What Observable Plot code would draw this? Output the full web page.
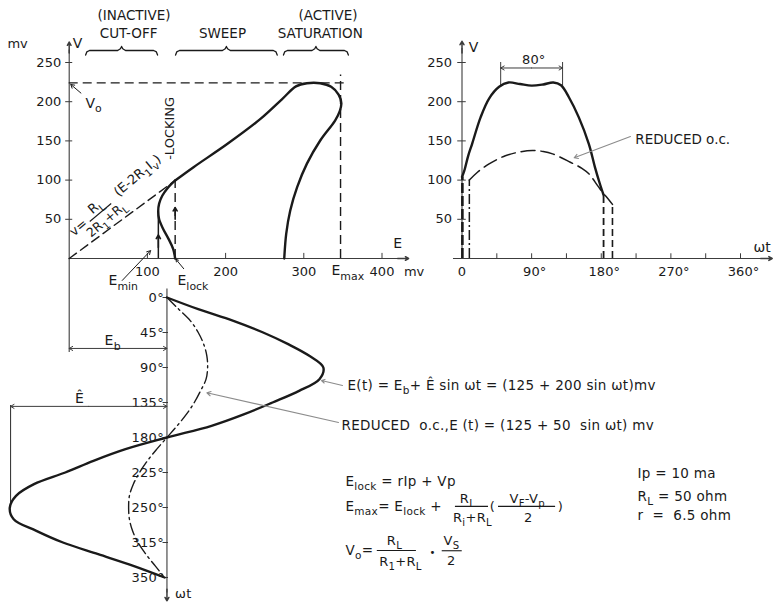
<!DOCTYPE html>
<html><head><meta charset="utf-8">
<script src="https://cdn.jsdelivr.net/npm/d3@7"></script>
<script src="https://cdn.jsdelivr.net/npm/@observablehq/plot@0.6"></script>
<style>
html,body{margin:0;padding:0;background:#fff;}
#fig{position:relative;width:773px;height:604px;overflow:hidden;background:#fff;}
#fig svg{position:absolute;left:0;top:0;}
</style></head><body><div id="fig"></div>
<script>
// ---------------- DATA ----------------
// tick values and labels
const vTicks = [50, 100, 150, 200, 250];
const eTicks = [100, 200, 300, 400];
const eTickLabels = ["100", "200", "300", "400"];
const phaseTicks = [45, 90, 135, 180, 225, 270, 315, 360];
const phaseLabelValues = [90, 180, 270, 360];
const phaseLabels = ["90°", "180°", "270°", "360°"];
const wtTicks = [0, 45, 90, 135, 180, 225, 270, 315, 360];
const wtTickLabels = ["0°", "45°", "90°", "135°", "180°", "225°", "250°", "315°", "350°"];

// key levels (mv)
const V0 = 224, Emin = 114, Elock = 135.5, Vlock = 99.5, Emax = 347, Eb = 125, Ehat = 200;

// operating regions along E (mv)
const regionTop = ["(INACTIVE)", "", "(ACTIVE)"];
const regionName = ["CUT-OFF", "SWEEP", "SATURATION"];
const regionStart = [21, 136, 274];
const regionEnd = [113, 266, 357];

// transfer characteristic V(E), mv
const sweepE = [135.5, 159, 202, 244.6, 272, 290, 304, 321, 335, 344.5, 348, 346, 340, 321, 304, 291.5, 282.6, 277.5, 275];
const sweepV = [99.5, 116.5, 146, 178, 203, 219.5, 223.6, 223.6, 219, 209, 198, 188, 176, 150.5, 121, 91, 61, 31.5, 0];
const lockE = [135.5, 126, 119, 115, 113.8, 115, 120, 127, 133, 135.5];
const lockV = [99.5, 90, 80, 70, 60, 50, 38, 25, 12, 0];

// output V(wt), normal drive
const outPhase = [0, 3, 8, 13, 24, 35, 48, 60, 75, 90, 105, 118, 128, 138, 151, 164, 172, 178, 183];
const outV = [104, 112, 131, 146, 180, 204, 219, 224.5, 222.5, 220.5, 222, 224.5, 221, 206, 180, 146, 116, 96, 81];
const outDrop = [0, 183];
// output V(wt), reduced o.c.
const redPhase = [9.5, 20, 35, 56, 75, 91, 105, 117, 140, 155, 164, 176, 182, 189, 194.5];
const redV = [100, 110, 120.7, 131, 136, 137.8, 136.5, 133.5, 122.8, 115, 108, 92, 84, 76, 69];
const redDrop = [9.5, 194.5];
const flatSpan = [50, 130];

// input drive E(wt), mv
const drivePhase = [0, 15, 30, 45, 60, 75, 90, 105, 120, 135, 150, 165, 180, 195, 210, 225, 240, 255, 270, 285, 300, 315, 330, 345, 360];
const driveE = [125, 165, 210, 248, 280, 307, 325, 320, 294, 260, 224, 182, 125, 72, 31, -5, -45, -68, -76, -71, -42, -8, 37, 82, 122];
const reducedE = [125, 140, 155, 165, 172, 176, 177, 175, 168, 160, 150, 138, 125, 112, 100, 90, 82, 77, 76, 77, 81, 88, 98, 110, 122];

// ---------------- STYLE / HELPERS ----------------
const ink = "#1a1a1a", axisInk = "#3c3c3c", grey = "#8c8c8c";
const font = "'DejaVu Sans', 'Liberation Sans', sans-serif";
const dashed = {stroke: ink, strokeWidth: 1.4, strokeDasharray: "9,5"};

function richText(svg) {
  svg.querySelectorAll("text").forEach(t => {
    const s = t.textContent;
    if (!s.includes("_{")) return;
    while (t.firstChild) t.removeChild(t.firstChild);
    const re = /_\{([^}]*)\}|([^_]+|_)/g;
    let m, shifted = false;
    while ((m = re.exec(s))) {
      const ts = document.createElementNS("http://www.w3.org/2000/svg", "tspan");
      if (m[1] !== undefined) {
        ts.textContent = m[1];
        ts.setAttribute("font-size", "0.78em");
        ts.setAttribute("dy", shifted ? "0" : "0.42em");
        shifted = true;
      } else {
        ts.textContent = m[2];
        if (shifted) { ts.setAttribute("dy", "-0.33em"); shifted = false; }
      }
      t.appendChild(ts);
    }
  });
}

function layer(x, y, marks, spacing = "0px") {
  const svg = Plot.plot({
    width: 773, height: 604, margin: 0,
    x: {...x, axis: null}, y: {...y, axis: null},
    style: {background: "transparent", overflow: "visible", fontFamily: font, fontSize: "13px", color: ink, letterSpacing: spacing},
    marks
  });
  richText(svg);
  return svg;
}
const T = (data, o) => Plot.text(data, {fill: ink, fontFamily: font, fontSize: 13, ...o});
const ptr = (rows, o) => Plot.arrow(rows, {x1: "x1", y1: "y1", x2: "x2", y2: "y2", headLength: 6, ...o});

const Escale = {domain: [0, 400], range: [68.7, 381.5]};
const Vscale = {domain: [0, 250], range: [258, 62]};
const Wscale = {domain: [0, 360], range: [461.5, 740]};
const Pscale = {domain: [0, 360], range: [297, 577]};

function brace(s, e) {
  const m = (s + e) / 2;
  return [[s, 259.5], [s + 1.5, 263.5], [s + 5, 265.3], [m - 5, 265.3], [m - 1.5, 267.5], [m, 270.5],
          [m + 1.5, 267.5], [m + 5, 265.3], [e - 5, 265.3], [e - 1.5, 263.5], [e, 259.5]];
}

// ---------------- PANEL A : V vs E ----------------
const A = layer(Escale, Vscale, [
  ...regionStart.map((s, i) => Plot.line(brace(s, regionEnd[i]), {x: d => d[0], y: d => d[1], stroke: ink, strokeWidth: 1.3})),
  T(regionTop, {x: [83, 0, 331], y: 310, fontSize: 13.5, filter: d => d !== ""}),
  T(regionName, {x: [76, 196, 321], y: 287, fontSize: 13.5}),
  // axes
  Plot.ruleX([0], {y1: -120, y2: 266, stroke: axisInk, strokeWidth: 1.1}),
  Plot.arrow([0], {x1: 0, x2: 0, y1: 262, y2: 276, stroke: axisInk, headLength: 7}),
  Plot.ruleY([0], {x1: 0, x2: 425, stroke: axisInk, strokeWidth: 1.1}),
  Plot.arrow([0], {x1: 420, x2: 434, y1: 0, y2: 0, stroke: axisInk, headLength: 7}),
  Plot.ruleY(vTicks, {x1: -4.5, x2: 4.5, stroke: axisInk}),
  Plot.ruleX(eTicks, {y1: 0, y2: 6.5, stroke: axisInk}),
  T(vTicks, {x: 0, y: d => d, text: d => String(d), textAnchor: "end", dx: -8}),
  T(eTicks, {x: d => d, y: 0, text: (d, i) => eTickLabels[i], dy: 13}),
  T(["mv"], {x: 441, y: 0, dy: 13}),
  T(["E"], {x: 420, y: 19, fontSize: 14}),
  T(["mv"], {x: -66, y: 274}),
  T(["V"], {x: 10.6, y: 274, fontSize: 14}),
  // construction lines
  Plot.ruleY([V0], {x1: 0, x2: 356, ...dashed}),
  Plot.ruleX([Emax], {y1: 0, y2: 234, ...dashed}),
  Plot.ruleX([Elock], {y1: 0, y2: Vlock, ...dashed}),
  Plot.line([[0, 0], [Elock, Vlock]], {x: d => d[0], y: d => d[1], ...dashed}),
  Plot.ruleX([Emin], {y1: 0, y2: 60, stroke: ink, strokeWidth: 1.5}),
  Plot.arrow([0], {x1: Emin, x2: Emin, y1: 14, y2: 30, stroke: ink, strokeWidth: 1.6, headLength: 6}),
  Plot.arrow([0], {x1: Elock, x2: Elock, y1: 50, y2: 65, stroke: ink, strokeWidth: 1.6, headLength: 6}),
  // characteristic
  Plot.line(sweepE, {x: sweepE, y: sweepV, curve: "catmull-rom", stroke: ink, strokeWidth: 2.4}),
  Plot.line(lockE, {x: lockE, y: lockV, curve: "catmull-rom", stroke: ink, strokeWidth: 2.4}),
  // labels & pointers
  ptr([{x1: 15, y1: 211, x2: 2, y2: 222}], {stroke: ink, strokeWidth: 1}),
  T(["V_{o}"], {x: 20.9, y: 198, textAnchor: "start", fontSize: 14}),
  ptr([{x1: 67.8, y1: -28, x2: 104, y2: 10}], {stroke: ink, strokeWidth: 1}),
  ptr([{x1: 146.4, y1: -13, x2: 136.5, y2: -1}], {stroke: ink, strokeWidth: 1, headLength: 4}),
  T(["E_{min}"], {x: 50.3, y: -28, textAnchor: "start", fontSize: 14}),
  T(["E_{lock}"], {x: 138.5, y: -28, textAnchor: "start", fontSize: 14}),
  T(["E_{max}"], {x: 335.4, y: -15.3, textAnchor: "start", fontSize: 14}),
  T(["-LOCKING"], {x: 129, y: 166, rotate: -90, fontSize: 13}),
  T(["v="], {x: 11.9, y: 39.5, rotate: -40}),
  T(["R_{L}"], {x: 33.6, y: 66.3, rotate: -40}),
  Plot.link([0], {x1: 26.3, y1: 47.2, x2: 53.7, y2: 70.2, stroke: ink, strokeWidth: 1.1}),
  T(["2R_{1}+R_{L}"], {x: 47.7, y: 49.7, rotate: -40, fontSize: 12.5}),
  T(["(E-2R_{1}I_{v})"], {x: 87.3, y: 105.9, rotate: -40})
]);

// ---------------- PANEL B : V vs wt ----------------
const B = layer(Wscale, Vscale, [
  Plot.ruleX([0], {y1: 0, y2: 268, stroke: axisInk, strokeWidth: 1.1}),
  Plot.arrow([0], {x1: 0, x2: 0, y1: 262, y2: 277, stroke: axisInk, headLength: 7}),
  Plot.ruleY([0], {x1: -11, x2: 392, stroke: axisInk, strokeWidth: 1.1}),
  Plot.arrow([0], {x1: 386, x2: 401, y1: 0, y2: 0, stroke: axisInk, headLength: 7}),
  Plot.ruleY(vTicks, {x1: -5.5, x2: 5.5, stroke: axisInk}),
  Plot.ruleX(phaseTicks, {y1: 0, y2: 6, stroke: axisInk}),
  T(vTicks, {x: 0, y: d => d, text: d => String(d), textAnchor: "end", dx: -10}),
  T(["0"], {x: 0, y: 0, dy: 13}),
  T(phaseLabelValues, {x: d => d, y: 0, text: (d, i) => phaseLabels[i], dy: 13, dx: 3}),
  T(["V"], {x: 14.9, y: 269.5, fontSize: 14}),
  T(["ωt"], {x: 388, y: 14, fontSize: 14}),
  // 80 deg flat-top span
  Plot.ruleX(flatSpan, {y1: 220, y2: 250, stroke: axisInk, strokeWidth: 1}),
  ptr([{x1: 90, y1: 243, x2: flatSpan[0], y2: 243}, {x1: 90, y1: 243, x2: flatSpan[1], y2: 243}], {stroke: axisInk, strokeWidth: 1}),
  T(["80°"], {x: 90, y: 254, dx: 2, fontSize: 13}),
  // output waveform
  Plot.ruleX([outDrop[0] + 0.5], {y1: 0, y2: outV[0], stroke: ink, strokeWidth: 2.6, strokeDasharray: "10,3"}),
  Plot.line(outPhase, {x: outPhase, y: outV, curve: "catmull-rom", stroke: ink, strokeWidth: 2.4}),
  Plot.ruleX([outDrop[1]], {y1: 0, y2: outV[outV.length - 1], stroke: ink, strokeWidth: 1.8, strokeDasharray: "7,4"}),
  // reduced o.c.
  Plot.ruleX([redDrop[0]], {y1: 0, y2: redV[0], stroke: ink, strokeWidth: 1.5, strokeDasharray: "10,3,2,3"}),
  Plot.line(redPhase, {x: redPhase, y: redV, curve: "catmull-rom", stroke: ink, strokeWidth: 1.5, strokeDasharray: "14,6"}),
  Plot.ruleX([redDrop[1]], {y1: 0, y2: redV[redV.length - 1], stroke: ink, strokeWidth: 1.6, strokeDasharray: "7,4"}),
  ptr([{x1: 217.7, y1: 155.6, x2: 145, y2: 128.5}], {stroke: grey, strokeWidth: 1.1}),
  T(["REDUCED o.c."], {x: 224, y: 151.8, textAnchor: "start", fontSize: 13.5})
]);

// ---------------- PANEL C : E vs wt (downward) ----------------
const bars = [
  {x1: 493.9, x2: 536.2, y: 268.6},
  {x1: 549, x2: 622, y: 268.6},
  {x1: 394, x2: 444, y: 325.2},
  {x1: 477, x2: 502.6, y: 325.6}
];
const C = layer(Escale, Pscale, [
  Plot.ruleX([Eb], {y1: -11, y2: 380, stroke: axisInk, strokeWidth: 1.1}),
  Plot.arrow([0], {x1: Eb, x2: Eb, y1: 375, y2: 390, stroke: axisInk, headLength: 7}),
  Plot.ruleY(wtTicks, {x1: Eb - 5, x2: Eb + 2, stroke: axisInk}),
  T(wtTicks, {x: Eb, y: d => d, text: (d, i) => wtTickLabels[i], textAnchor: "end", dx: -3}),
  T(["ωt"], {x: 146, y: 381, fontSize: 13}),
  // E_b and E-hat dimension lines
  ptr([{x1: Eb / 2, y1: 65.5, x2: 0, y2: 65.5}, {x1: Eb / 2, y1: 65.5, x2: Eb, y2: 65.5}], {stroke: axisInk, strokeWidth: 1}),
  T(["E_{b}"], {x: 45.3, y: 55.3, textAnchor: "start", fontSize: 14}),
  Plot.ruleX([Eb - Ehat], {y1: 139, y2: 271, stroke: axisInk, strokeWidth: 1.1}),
  ptr([{x1: 25, y1: 140, x2: Eb - Ehat, y2: 140}, {x1: 25, y1: 140, x2: Eb, y2: 140}], {stroke: axisInk, strokeWidth: 1}),
  T(["Ê"], {x: 13.2, y: 129.8, fontSize: 14}),
  // waveforms
  Plot.line(drivePhase, {x: driveE, y: drivePhase, curve: "catmull-rom", stroke: ink, strokeWidth: 2.4}),
  Plot.line(drivePhase, {x: reducedE, y: drivePhase, curve: "catmull-rom", stroke: ink, strokeWidth: 1.4, strokeDasharray: "12,4,2,4"}),
  // pointers and equations
  ptr([{x1: 349.5, y1: 113.1, x2: 322.6, y2: 106.7}], {stroke: grey, strokeWidth: 1.1, headLength: 5}),
  T(["E(t) = E_{b}+ Ê sin ωt = (125 + 200 sin ωt)mv"], {x: 355.9, y: 113.1, textAnchor: "start", fontSize: 13.5}),
  ptr([{x1: 344.4, y1: 160.7, x2: 176, y2: 122.5}], {stroke: grey, strokeWidth: 1.1, headLength: 6}),
  T(["REDUCED  o.c.,E (t) = (125 + 50  sin ωt) mv"], {x: 348.2, y: 164.5, textAnchor: "start", fontSize: 13.5}),
  T(["E_{lock} = rIp + Vp"], {x: 353.3, y: 236.5, textAnchor: "start", fontSize: 13.5}),
  T(["E_{max}= E_{lock} +"], {x: 353.3, y: 268.6, textAnchor: "start", fontSize: 13.5}),
  T(["R_{L}"], {x: 509.3, y: 258.4}),
  T(["R_{i}+R_{L}"], {x: 515.7, y: 282.8}),
  T(["("], {x: 541.3, y: 268.6}),
  T(["V_{F}-V_{p}"], {x: 585.7, y: 258.4}),
  T(["2"], {x: 587, y: 282.8}),
  T([")"], {x: 628.3, y: 268.6}),
  T(["V_{o}="], {x: 353.3, y: 325.2, textAnchor: "start", fontSize: 13.5}),
  T(["R_{L}"], {x: 416, y: 312.5}),
  T(["R_{1}+R_{L}"], {x: 423.7, y: 339.3}),
  T(["•"], {x: 464.6, y: 327.8, fontSize: 10}),
  T(["V_{S}"], {x: 488.8, y: 312.5}),
  T(["2"], {x: 488.5, y: 338}),
  Plot.ruleY(bars, {y: "y", x1: "x1", x2: "x2", stroke: ink, strokeWidth: 1.1}),
  T(["Ip = 10 ma"], {x: 726.7, y: 226.2, textAnchor: "start", fontSize: 13.5}),
  T(["R_{L} = 50 ohm"], {x: 726.7, y: 255.7, textAnchor: "start", fontSize: 13.5}),
  T(["r  =  6.5 ohm"], {x: 726.7, y: 280.2, textAnchor: "start", fontSize: 13.5})
], "0.3px");

const fig = document.getElementById("fig");
fig.append(A, B, C);
</script></body></html>
